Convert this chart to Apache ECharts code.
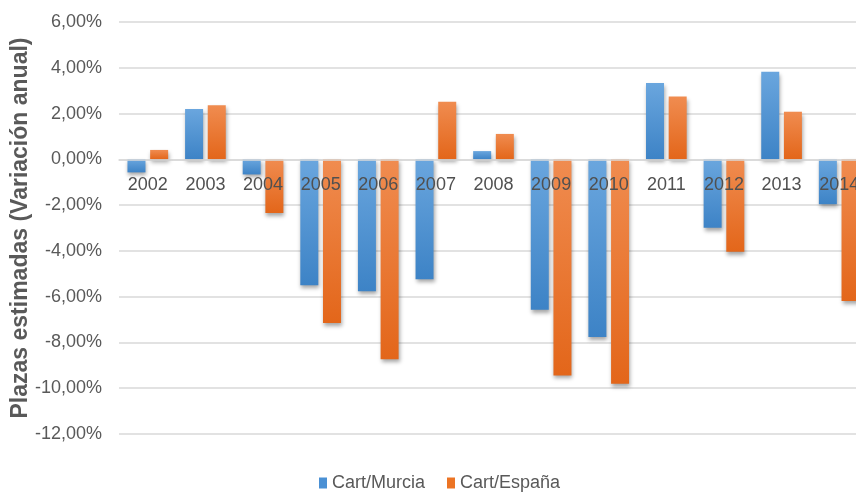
<!DOCTYPE html>
<html lang="es">
<head>
    <meta charset="utf-8"/>
    <title>Plazas estimadas</title>
    <script src="https://cdn.jsdelivr.net/npm/echarts@6/dist/echarts.min.js"></script>
    <style>
        html, body { margin: 0; padding: 0; background: #fff; }
    </style>
</head>
<body>
<div id="main" style="width: 856px;height:492px;"></div>
<script type="text/javascript">

    // datos (variación anual, %)
    var years = ['2002', '2003', '2004', '2005', '2006', '2007', '2008', '2009', '2010', '2011', '2012', '2013', '2014'];
    var murcia = [-0.57, 2.20, -0.66, -5.50, -5.76, -5.24, 0.36, -6.57, -7.76, 3.34, -2.99, 3.83, -1.96];
    var espana = [0.41, 2.36, -2.34, -7.15, -8.73, 2.52, 1.11, -9.44, -9.80, 2.74, -4.04, 2.08, -6.19];
    var seriesNames = ['Cart/Murcia', 'Cart/España'];
    var yMin = -12, yMax = 6, yStep = 2;

    var font = "'Liberation Sans', Arial, sans-serif";
    var textColor = '#595959';

    var gridTop = 22, gridBottom = 58, chartH = 492;
    // el eje de categorías va sobre la línea del 0
    var plotH = chartH - gridTop - gridBottom;
    var zeroOffset = -plotH * (0 - yMin) / (yMax - yMin);

    function grad(top, bottom) {
        return new echarts.graphic.LinearGradient(0, 0, 0, 1, [
            {offset: 0, color: top},
            {offset: 1, color: bottom}
        ]);
    }

    var barShadow = {
        shadowColor: 'rgba(0, 0, 0, 0.35)',
        shadowBlur: 4,
        shadowOffsetX: 1,
        shadowOffsetY: 3
    };

    var myChart = echarts.init(document.getElementById('main'));

    var option = {
        animation: false,
        textStyle: {fontFamily: font},
        grid: {left: 119, right: -12, top: gridTop, bottom: gridBottom, containLabel: false, outerBoundsMode: 'none'},
        legend: {
            left: 314,
            top: 469,
            itemWidth: 8,
            itemHeight: 11,
            itemGap: 22,
            icon: 'rect',
            textStyle: {fontFamily: font, fontSize: 18, color: textColor},
            data: [
                {name: seriesNames[0], itemStyle: {color: '#4a90d4', shadowBlur: 0, shadowOffsetX: 0, shadowOffsetY: 0}},
                {name: seriesNames[1], itemStyle: {color: '#ec7424', shadowBlur: 0, shadowOffsetX: 0, shadowOffsetY: 0}}
            ]
        },
        xAxis: {
            type: 'category',
            data: years,
            z: 10,
            position: 'bottom',
            offset: zeroOffset,
            axisLine: {show: true, onZero: false, lineStyle: {color: '#d9d9d9', width: 1.5}},
            axisTick: {show: false},
            splitLine: {show: false},
            axisLabel: {
                margin: 17,
                fontFamily: font,
                fontSize: 18,
                color: '#505050',
                interval: 0
            }
        },
        yAxis: {
            type: 'value',
            min: yMin,
            max: yMax,
            interval: yStep,
            name: 'Plazas estimadas (Variación anual)',
            nameLocation: 'middle',
            nameGap: 87,
            nameMoveOverlap: false,
            nameTextStyle: {fontFamily: font, fontSize: 23, fontWeight: 'bold', color: textColor},
            axisLine: {show: false},
            axisTick: {show: false},
            splitLine: {lineStyle: {color: '#d9d9d9', width: 1.5}},
            axisLabel: {
                margin: 17,
                fontFamily: font,
                fontSize: 18,
                color: textColor,
                formatter: function (v) {
                    return v.toFixed(2).replace('.', ',') + '%';
                }
            }
        },
        series: [
            {
                name: seriesNames[0],
                type: 'bar',
                data: murcia,
                barWidth: 18,
                barGap: '26%',
                itemStyle: Object.assign({color: grad('#6aa6de', '#3d83c6')}, barShadow)
            },
            {
                name: seriesNames[1],
                type: 'bar',
                data: espana,
                barWidth: 18,
                itemStyle: Object.assign({color: grad('#f08c50', '#e3661a')}, barShadow)
            }
        ]
    };

    myChart.setOption(option);
</script>
</body>
</html>
